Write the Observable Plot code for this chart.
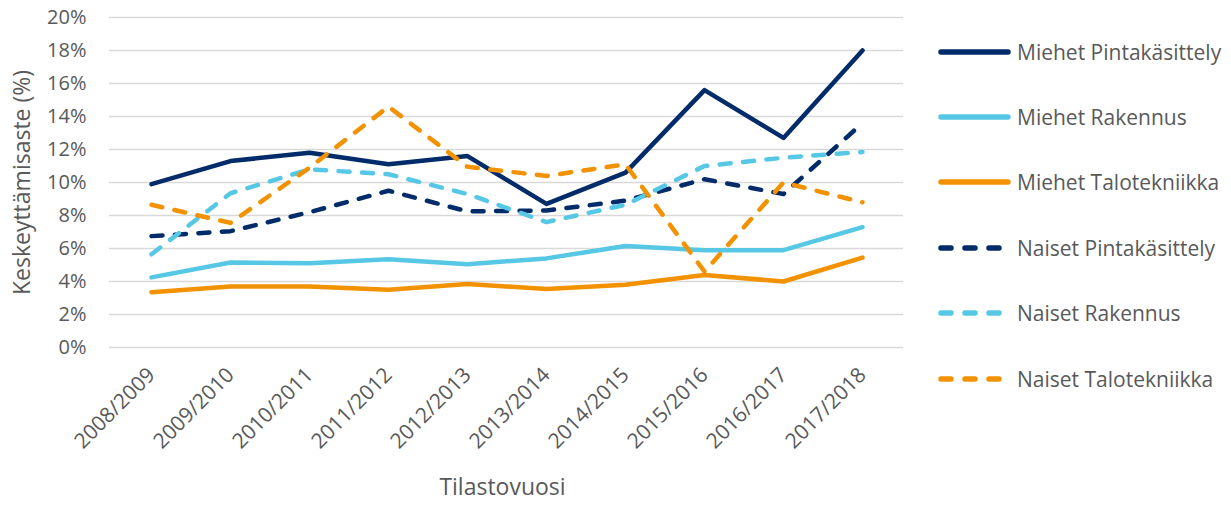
<!DOCTYPE html>
<html>
<head>
<meta charset="utf-8">
<script src="https://cdn.jsdelivr.net/npm/d3@7"></script>
<script src="https://cdn.jsdelivr.net/npm/@observablehq/plot@0.6"></script>
<style>
  body { margin: 0; background: #fff; }
  #wrap { position: relative; width: 1231px; height: 506px; overflow: hidden; font-family: "Open Sans", sans-serif; }
  #legend { position: absolute; left: 938px; top: 19px; }
  .row { display: flex; align-items: center; height: 65.4px; }
  .row span { margin-left: 6px; font-size: 21px; color: #595959; white-space: nowrap; }
</style>
</head>
<body>
<div id="wrap"></div>
<script>
const years = ["2008/2009","2009/2010","2010/2011","2011/2012","2012/2013","2013/2014","2014/2015","2015/2016","2016/2017","2017/2018"];
const yTicks = [0, 2, 4, 6, 8, 10, 12, 14, 16, 18, 20];

const miehetPintakasittely = [9.9, 11.3, 11.8, 11.1, 11.6, 8.7, 10.6, 15.6, 12.7, 18.0];
const miehetRakennus       = [4.25, 5.15, 5.1, 5.35, 5.05, 5.4, 6.15, 5.9, 5.9, 7.3];
const miehetTalotekniikka  = [3.35, 3.7, 3.7, 3.5, 3.85, 3.55, 3.8, 4.4, 4.0, 5.45];
const naisetPintakasittely = [6.75, 7.05, 8.2, 9.5, 8.25, 8.3, 8.9, 10.2, 9.3, 13.6];
const naisetRakennus       = [5.65, 9.35, 10.8, 10.5, 9.3, 7.6, 8.65, 11.0, 11.5, 11.85];
const naisetTalotekniikka  = [8.65, 7.55, 10.9, 14.6, 10.95, 10.4, 11.1, 4.6, 10.0, 8.8];

const navy = "#022b69", light = "#56c7e4", orange = "#f39200";
const series = [
  {name: "Miehet Pintakäsittely", values: miehetPintakasittely, color: navy, dashed: false},
  {name: "Miehet Rakennus", values: miehetRakennus, color: light, dashed: false},
  {name: "Miehet Talotekniikka", values: miehetTalotekniikka, color: orange, dashed: false},
  {name: "Naiset Pintakäsittely", values: naisetPintakasittely, color: navy, dashed: true},
  {name: "Naiset Rakennus", values: naisetRakennus, color: light, dashed: true},
  {name: "Naiset Talotekniikka", values: naisetTalotekniikka, color: orange, dashed: true}
];

const lineMarks = series.map(s =>
  Plot.line(years.map((yr, i) => ({year: yr, value: s.values[i]})), {
    x: "year", y: "value", stroke: s.color, strokeWidth: 4.5,
    strokeLinecap: "round", strokeLinejoin: "round",
    strokeDasharray: s.dashed ? "11,12.5" : null
  })
);

const chart = Plot.plot({
  width: 1231, height: 506,
  marginLeft: 109, marginRight: 328, marginTop: 17, marginBottom: 159,
  x: {type: "point", domain: years, padding: 0.5},
  y: {domain: [0, 20]},
  style: {fontFamily: "'Open Sans', sans-serif", fontSize: "20px", color: "#595959", background: "white", overflow: "visible"},
  marks: [
    Plot.gridY(yTicks, {stroke: "#d9d9d9", strokeOpacity: 1, strokeWidth: 1.5}),
    Plot.axisY(yTicks, {tickSize: 0, tickPadding: 23, tickFormat: d => d + "%", fontSize: 20, label: null}),
    Plot.axisX({tickSize: 0, tickPadding: 24, tickRotate: -45, label: null, fontSize: 21}),
    ...lineMarks,
    Plot.text(["Keskeyttämisaste (%)"], {text: d => d, frameAnchor: "left", textAnchor: "middle", dx: -87, rotate: -90, fontSize: 23, fill: "#595959"}),
    Plot.text(["Tilastovuosi"], {text: d => d, frameAnchor: "bottom", dx: -4, dy: 147, fontSize: 23, fill: "#595959"})
  ]
});
const wrap = document.getElementById("wrap");
wrap.appendChild(chart);

const legend = document.createElement("div");
legend.id = "legend";
for (const s of series) {
  const row = document.createElement("div");
  row.className = "row";
  const dash = s.dashed ? ' stroke-dasharray="10,14"' : '';
  row.innerHTML = `<svg width="73" height="12"><line x1="3" y1="6" x2="70" y2="6" stroke="${s.color}" stroke-width="5.5" stroke-linecap="round"${dash}/></svg><span>${s.name}</span>`;
  legend.appendChild(row);
}
wrap.appendChild(legend);
</script>
</body>
</html>
